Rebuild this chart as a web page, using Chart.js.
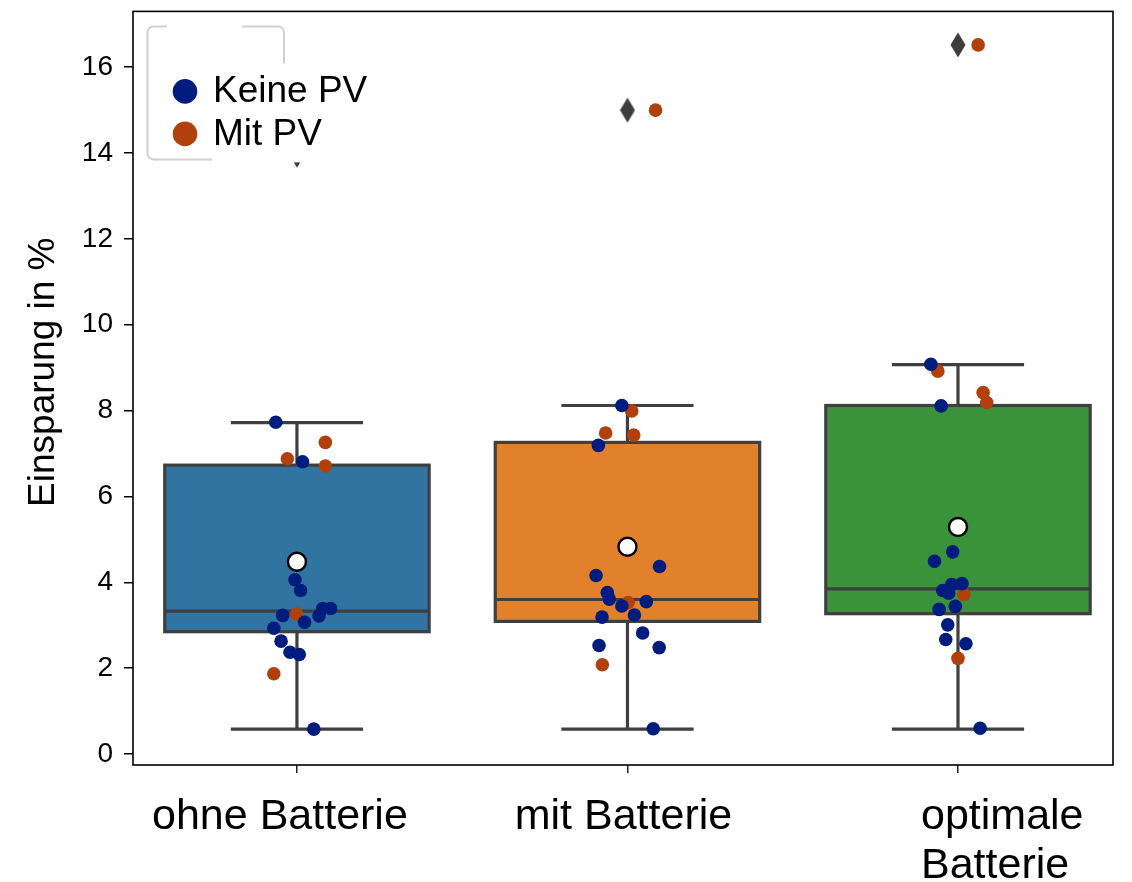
<!DOCTYPE html>
<html><head><meta charset="utf-8">
<script src="https://cdn.jsdelivr.net/npm/chart.js@4.4.0/dist/chart.umd.min.js"></script>
<style>html,body{margin:0;padding:0;background:#fff}#wrap{width:1132px;height:882px;position:relative}</style>
</head><body><div id="wrap"><canvas id="c"></canvas></div>
<script>
// ---- data ----
const categories = ['ohne Batterie', 'mit Batterie', 'optimale Batterie'];
const tickLabelLines = [['ohne Batterie'], ['mit Batterie'], ['optimale', 'Batterie']];
const yTitle = 'Einsparung in %';
const yTicks = [0, 2, 4, 6, 8, 10, 12, 14, 16];
const q1 = [2.85, 3.09, 3.27];
const medians = [3.33, 3.60, 3.85];
const q3 = [6.73, 7.26, 8.12];
const whiskerLow = [0.58, 0.58, 0.58];
const whiskerHigh = [7.72, 8.12, 9.07];
const means = [4.48, 4.83, 5.29];
const outliers = [13.95, 15.0, 16.52];

const keinePV = [
  [7.73, 6.81, 4.06, 3.81, 3.23, 3.07, 3.22, 3.39, 3.39, 2.93, 2.63, 2.37, 2.32, 0.58],
  [8.12, 7.19, 4.37, 4.16, 3.76, 3.61, 3.45, 3.55, 3.24, 3.19, 2.82, 2.53, 2.48, 0.59],
  [9.08, 8.11, 4.71, 4.49, 3.97, 3.95, 3.81, 3.75, 3.44, 3.37, 3.01, 2.67, 2.57, 0.60]
];
const keinePVJitter = [
  [-0.064, 0.017, -0.006, 0.011, -0.043, 0.023, 0.067, 0.078, 0.102, -0.070, -0.048, -0.021, 0.007, 0.051],
  [-0.017, -0.088, 0.097, -0.095, -0.061, -0.055, -0.017, 0.057, 0.021, -0.077, 0.046, -0.086, 0.096, 0.078],
  [-0.082, -0.051, -0.016, -0.071, 0.012, -0.019, -0.046, -0.028, -0.008, -0.057, -0.031, -0.037, 0.024, 0.067]
];
const mitPV = [
  [7.26, 6.88, 6.71, 3.26, 1.87, 13.95],
  [7.99, 7.48, 7.43, 3.53, 2.08, 15.0],
  [8.92, 8.42, 8.19, 3.72, 2.23, 16.52]
];
const mitPVJitter = [
  [0.086, -0.029, 0.086, -0.001, -0.070, 0.10],
  [0.013, -0.066, 0.019, 0.002, -0.076, 0.085],
  [-0.061, 0.076, 0.087, 0.018, 0.0, 0.061]
];

// ---- styles ----
const boxColors = ['#3274a1', '#e1812c', '#3a923a'];
const lineGray = '#3f3f3f';
const blue = '#001c7f', orange = '#b1400d';
const FONT = '"Liberation Sans", Arial, Helvetica, sans-serif';

function toPoints(vals, jit) {
  const out = [];
  vals.forEach((arr, i) => arr.forEach((v, j) => out.push({x: i + jit[i][j], y: v})));
  return out;
}

const dia = document.createElement('canvas');
dia.width = 16; dia.height = 26;
(function(){ const d = dia.getContext('2d'); d.fillStyle = '#3d3d3d'; d.beginPath();
  d.moveTo(8, 0.5); d.lineTo(15.5, 13); d.lineTo(8, 25.5); d.lineTo(0.5, 13); d.closePath(); d.fill(); })();

const boxPlugin = {
  id: 'boxes',
  beforeDatasetsDraw(chart) {
    const {ctx, scales: {x, y}} = chart;
    ctx.save();
    ctx.strokeStyle = lineGray; ctx.lineWidth = 3.2; ctx.lineCap = 'butt';
    categories.forEach((c, i) => {
      const xl = x.getPixelForValue(i - 0.4), xr = x.getPixelForValue(i + 0.4), xc = x.getPixelForValue(i);
      const cl = x.getPixelForValue(i - 0.2), cr = x.getPixelForValue(i + 0.2);
      const y1 = y.getPixelForValue(q1[i]), y3 = y.getPixelForValue(q3[i]);
      const ym = y.getPixelForValue(medians[i]);
      const yl = y.getPixelForValue(whiskerLow[i]), yh = y.getPixelForValue(whiskerHigh[i]);
      ctx.beginPath();
      ctx.moveTo(xc, y1); ctx.lineTo(xc, yl);
      ctx.moveTo(xc, y3); ctx.lineTo(xc, yh);
      ctx.moveTo(cl, yl); ctx.lineTo(cr, yl);
      ctx.moveTo(cl, yh); ctx.lineTo(cr, yh);
      ctx.stroke();
      ctx.fillStyle = boxColors[i];
      ctx.fillRect(xl, y3, xr - xl, y1 - y3);
      ctx.strokeRect(xl, y3, xr - xl, y1 - y3);
      ctx.beginPath(); ctx.moveTo(xl, ym); ctx.lineTo(xr, ym); ctx.stroke();
    });
    ctx.restore();
  },
  afterDraw(chart) {
    const {ctx, chartArea: ca, scales: {x}} = chart;
    ctx.save();
    // frame
    ctx.strokeStyle = '#000'; ctx.lineWidth = 1.6;
    ctx.strokeRect(ca.left, ca.top, ca.right - ca.left, ca.bottom - ca.top);
    // y title
    ctx.save();
    ctx.translate(44, (ca.top + ca.bottom) / 2 - 16);
    ctx.rotate(-Math.PI / 2);
    ctx.fillStyle = '#000'; ctx.font = '37px ' + FONT; ctx.textAlign = 'center'; ctx.textBaseline = 'middle';
    ctx.fillText(yTitle, 0, 0);
    ctx.restore();
    // x labels
    ctx.fillStyle = '#000'; ctx.font = '43px ' + FONT; ctx.textBaseline = 'alphabetic';
    const offs = [-17, -4, -37];
    const aligns = ['center', 'center', 'left'];
    tickLabelLines.forEach((lines, i) => {
      ctx.textAlign = aligns[i];
      lines.forEach((t, k) => ctx.fillText(t, x.getPixelForValue(i) + offs[i], ca.bottom + 64 + k * 49));
    });
    // legend
    const L = ca.left, T = ca.top;
    ctx.strokeStyle = '#d0d0d0'; ctx.lineWidth = 2;
    ctx.beginPath(); ctx.roundRect(L + 14.5, T + 15, 136.5, 133, 6); ctx.stroke();
    ctx.fillStyle = '#fff';
    ctx.fillRect(L + 34, T + 6, 75, 16);
    ctx.fillRect(L + 75, T + 52, 170, 50);
    ctx.fillRect(L + 79, T + 102, 133, 49);
    const items = [['Keine PV', blue, 80], ['Mit PV', orange, 122.5]];
    ctx.font = '37px ' + FONT; ctx.textAlign = 'left'; ctx.textBaseline = 'alphabetic';
    items.forEach(([t, col, yy]) => {
      ctx.fillStyle = col; ctx.beginPath(); ctx.arc(L + 52, T + yy, 12.3, 0, Math.PI * 2); ctx.fill();
      ctx.fillStyle = '#000'; ctx.fillText(t, L + 80, T + yy + 11);
    });
    ctx.restore();
  }
};

new Chart(document.getElementById('c'), {
  type: 'scatter',
  data: {
    datasets: [
      {label: 'mean', data: means.map((m, i) => ({x: i, y: m})), pointRadius: 9, backgroundColor: '#fff',
       borderColor: '#000', borderWidth: 2.4, order: 0},
      {label: 'Keine PV', data: toPoints(keinePV, keinePVJitter), pointRadius: 6.8, backgroundColor: blue,
       borderWidth: 0, order: 1},
      {label: 'Mit PV', data: toPoints(mitPV, mitPVJitter), pointRadius: 6.8, backgroundColor: orange,
       borderWidth: 0, order: 2},
      {label: 'outliers', data: outliers.map((o, i) => ({x: i, y: o})), pointStyle: dia, order: 3}
    ]
  },
  options: {
    responsive: true, maintainAspectRatio: false, animation: false, events: [],
    layout: {padding: {left: 0, top: 2, right: 19, bottom: 0}},
    plugins: {legend: {display: false}, tooltip: {enabled: false}},
    scales: {
      x: {
        type: 'linear', min: -0.496, max: 2.469,
        afterBuildTicks: s => { s.ticks = [0, 1, 2].map(v => ({value: v})); },
        afterFit: s => { s.height = 117; s.paddingLeft = 0; s.paddingRight = 0; },
        ticks: {display: false},
        grid: {display: true, drawOnChartArea: false, drawTicks: true, tickLength: 8, color: '#222', lineWidth: 1.5},
        border: {display: false}
      },
      y: {
        min: -0.255, max: 17.3,
        afterBuildTicks: s => { s.ticks = yTicks.map(v => ({value: v})); },
        afterFit: s => { s.width = 133; s.paddingTop = 0; s.paddingBottom = 0; },
        ticks: {color: '#000', padding: 11, font: {family: FONT, size: 28}},
        grid: {display: true, drawOnChartArea: false, drawTicks: true, tickLength: 9, color: '#000', lineWidth: 1.5},
        border: {display: false}
      }
    }
  },
  plugins: [boxPlugin]
});
</script></body></html>
